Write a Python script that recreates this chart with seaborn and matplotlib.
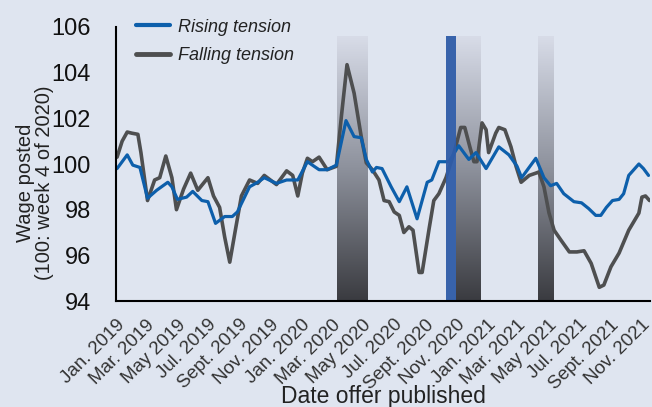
import matplotlib
matplotlib.use("Agg")
import matplotlib.pyplot as plt
import matplotlib.dates as mdates
from matplotlib.colors import LinearSegmentedColormap
from matplotlib.lines import Line2D
import numpy as np
import pandas as pd
import seaborn as sns

# ---------------- data ----------------
rising_dates = ["2019-01-03", "2019-01-23", "2019-02-03", "2019-02-17", "2019-03-04", "2019-03-22",
                "2019-04-13", "2019-04-21", "2019-05-02", "2019-05-20", "2019-06-01", "2019-06-19",
                "2019-07-01", "2019-07-16", "2019-08-03", "2019-08-18", "2019-08-28", "2019-09-21",
                "2019-10-07", "2019-10-20", "2019-11-13", "2019-12-03", "2019-12-25", "2020-01-13",
                "2020-02-05", "2020-02-21", "2020-03-10", "2020-03-29", "2020-04-14", "2020-04-28",
                "2020-05-08", "2020-05-20", "2020-05-28", "2020-06-08", "2020-06-26", "2020-07-12",
                "2020-07-27", "2020-08-16", "2020-09-05", "2020-09-14", "2020-09-28", "2020-10-18",
                "2020-11-06", "2020-11-26", "2020-12-10", "2020-12-30", "2021-01-24", "2021-02-13",
                "2021-03-01", "2021-03-10", "2021-04-07", "2021-04-23", "2021-05-06", "2021-05-18",
                "2021-06-01", "2021-06-21", "2021-07-06", "2021-07-20", "2021-08-03", "2021-08-13",
                "2021-08-24", "2021-09-05", "2021-09-18", "2021-09-27", "2021-10-07", "2021-10-19",
                "2021-10-27", "2021-11-05", "2021-11-15"]
rising_values = [99.8, 100.4, 99.95, 99.85, 98.5, 98.85,
                 99.2, 99.0, 98.45, 98.55, 98.8, 98.4,
                 98.35, 97.4, 97.7, 97.7, 97.9, 99.0,
                 99.2, 99.4, 99.15, 99.3, 99.3, 100.1,
                 99.75, 99.75, 99.95, 101.9, 101.2, 101.15,
                 100.2, 99.65, 99.85, 99.8, 99.0, 98.35,
                 99.0, 97.6, 99.2, 99.3, 100.1, 100.1,
                 100.8, 100.2, 100.5, 99.8, 100.75, 100.4,
                 99.9, 99.4, 100.25, 99.4, 99.05, 99.15,
                 98.7, 98.35, 98.3, 98.05, 97.75, 97.75,
                 98.1, 98.4, 98.45, 98.7, 99.5, 99.8,
                 100.0, 99.8, 99.5]

falling_dates = ["2019-01-03", "2019-01-13", "2019-01-23", "2019-02-01", "2019-02-13", "2019-02-19",
                 "2019-03-04", "2019-03-18", "2019-03-28", "2019-04-09", "2019-04-21", "2019-04-30",
                 "2019-05-14", "2019-05-28", "2019-06-11", "2019-07-01", "2019-07-12", "2019-07-24",
                 "2019-08-03", "2019-08-13", "2019-08-24", "2019-09-05", "2019-09-21", "2019-10-07",
                 "2019-10-20", "2019-11-13", "2019-12-03", "2019-12-15", "2019-12-25", "2020-01-03",
                 "2020-01-13", "2020-01-23", "2020-02-05", "2020-02-21", "2020-03-10", "2020-03-20",
                 "2020-03-31", "2020-04-14", "2020-04-28", "2020-05-08", "2020-05-20", "2020-06-02",
                 "2020-06-12", "2020-06-22", "2020-07-02", "2020-07-12", "2020-07-21", "2020-07-31",
                 "2020-08-08", "2020-08-20", "2020-08-26", "2020-09-09", "2020-09-18", "2020-09-28",
                 "2020-10-12", "2020-10-28", "2020-11-10", "2020-11-18", "2020-11-28", "2020-12-06",
                 "2020-12-12", "2020-12-22", "2020-12-30", "2021-01-04", "2021-01-18", "2021-01-24",
                 "2021-02-05", "2021-02-17", "2021-02-27", "2021-03-09", "2021-03-25", "2021-04-07",
                 "2021-04-13", "2021-04-23", "2021-05-03", "2021-05-13", "2021-05-27", "2021-06-12",
                 "2021-06-27", "2021-07-11", "2021-07-25", "2021-08-10", "2021-08-19", "2021-09-02",
                 "2021-09-18", "2021-10-07", "2021-10-27", "2021-11-02", "2021-11-09", "2021-11-17"]
falling_values = [100.3, 101.0, 101.4, 101.35, 101.3, 100.5,
                  98.4, 99.3, 99.4, 100.35, 99.4, 98.0,
                  98.9, 99.6, 98.85, 99.4, 98.6, 98.1,
                  96.8, 95.7, 97.1, 98.6, 99.3, 99.15,
                  99.5, 99.1, 99.7, 99.5, 98.6, 99.6,
                  100.25, 100.1, 100.3, 99.75, 99.9, 102.1,
                  104.35, 103.1, 101.2, 100.05, 99.75, 99.3,
                  98.4, 98.35, 97.9, 97.75, 97.0, 97.25,
                  97.1, 95.25, 95.25, 97.2, 98.4, 98.7,
                  99.4, 100.5, 101.6, 101.6, 100.75, 100.1,
                  100.1, 101.8, 101.5, 100.5, 101.35, 101.6,
                  101.5, 100.75, 99.9, 99.2, 99.5, 99.6,
                  99.65, 99.0, 97.85, 97.1, 96.65, 96.15,
                  96.15, 96.2, 95.65, 94.6, 94.7, 95.5,
                  96.1, 97.1, 97.85, 98.55, 98.6, 98.4]

series_names = ["Rising tension", "Falling tension"]
gradient_spans = [("2020-03-12", "2020-05-12"), ("2020-11-01", "2020-12-20"), ("2021-04-11", "2021-05-11")]
blue_span = ("2020-10-12", "2020-10-31")
span_top = 105.6

tick_dates = pd.date_range("2019-01-01", "2021-11-01", freq="2MS")
month_abbr = {1: "Jan.", 3: "Mar.", 5: "May", 7: "Jul.", 9: "Sept.", 11: "Nov."}
tick_labels = [f"{month_abbr[d.month]} {d.year}" for d in tick_dates]

# ---------------- style ----------------
BG = "#dfe5f0"
BLUE = "#0d5fab"
GRAY = "#4e4f50"
sns.set_theme(style="white")
plt.rcParams["font.family"] = ["Liberation Sans", "DejaVu Sans"]

fig = plt.figure(figsize=(6.52, 4.07), dpi=100, facecolor=BG)
ax = fig.add_axes([0.178, 0.2604, 0.819, 0.6733])
ax.set_facecolor(BG)

df = pd.concat([
    pd.DataFrame({"date": pd.to_datetime(rising_dates), "value": rising_values, "series": series_names[0]}),
    pd.DataFrame({"date": pd.to_datetime(falling_dates), "value": falling_values, "series": series_names[1]}),
])

# gradient shaded periods
cmap = LinearSegmentedColormap.from_list("g", ["#d8dce8", "#8d919c", "#3a3b40"])
grad = np.linspace(0, 1, 256).reshape(-1, 1)
for s, e in gradient_spans:
    x0 = mdates.date2num(pd.Timestamp(s))
    x1 = mdates.date2num(pd.Timestamp(e))
    ax.imshow(grad, cmap=cmap, aspect="auto", extent=[x0, x1, 94, span_top],
              origin="upper", zorder=1, interpolation="bicubic")

sns.lineplot(data=df, x="date", y="value", hue="series", palette=[BLUE, GRAY],
             hue_order=series_names, ax=ax, zorder=3, legend=False, estimator=None, sort=True)
lines = ax.get_lines()
lines[0].set_linewidth(2.3)
lines[1].set_linewidth(2.6)
lines[1].set_zorder(2.5)

ax.axvspan(pd.Timestamp(blue_span[0]), pd.Timestamp(blue_span[1]), ymin=0,
           ymax=(span_top - 94) / 12, color="#2f5ca8", alpha=0.95, zorder=4, lw=0)

ax.set_xlim(pd.Timestamp("2019-01-01"), pd.Timestamp("2021-11-18"))
ax.set_ylim(94, 106)
ax.set_yticks(range(94, 107, 2))
ax.set_yticklabels([str(v) for v in range(94, 107, 2)], fontsize=17, color="#111111")
ax.set_xticks(tick_dates)
ax.set_xticklabels(tick_labels, rotation=45, ha="right", rotation_mode="anchor",
                   fontsize=13.5, color="#333333")

for sp in ["top", "right"]:
    ax.spines[sp].set_visible(False)
for sp in ["left", "bottom"]:
    ax.spines[sp].set_color("black")
    ax.spines[sp].set_linewidth(1.5)
    ax.spines[sp].set_zorder(5)
ax.tick_params(axis="x", direction="out", length=6, width=1.5, color="black", pad=5)
ax.tick_params(axis="y", direction="out", length=6, width=1.5, color="black", pad=12)

ax.set_ylabel("Wage posted\n(100: week 4 of 2020)", fontsize=14.5, color="#222222", linespacing=0.95)
ax.yaxis.set_label_coords(-0.117, 0.43)
ax.set_xlabel("Date offer published", fontsize=16.5, color="#222222")
ax.xaxis.set_label_coords(0.5, -0.305)

handles = [Line2D([], [], color=BLUE, lw=3), Line2D([], [], color=GRAY, lw=3.5)]
leg = ax.legend(handles, series_names, loc="upper left", bbox_to_anchor=(0.006, 1.09),
                frameon=False, handlelength=1.9, handletextpad=0.45, labelspacing=0.65,
                prop={"size": 13, "style": "italic", "family": ["Liberation Sans", "DejaVu Sans"]})
for t in leg.get_texts():
    t.set_color("#222222")

fig.savefig("out.png", dpi=100, facecolor=BG)
